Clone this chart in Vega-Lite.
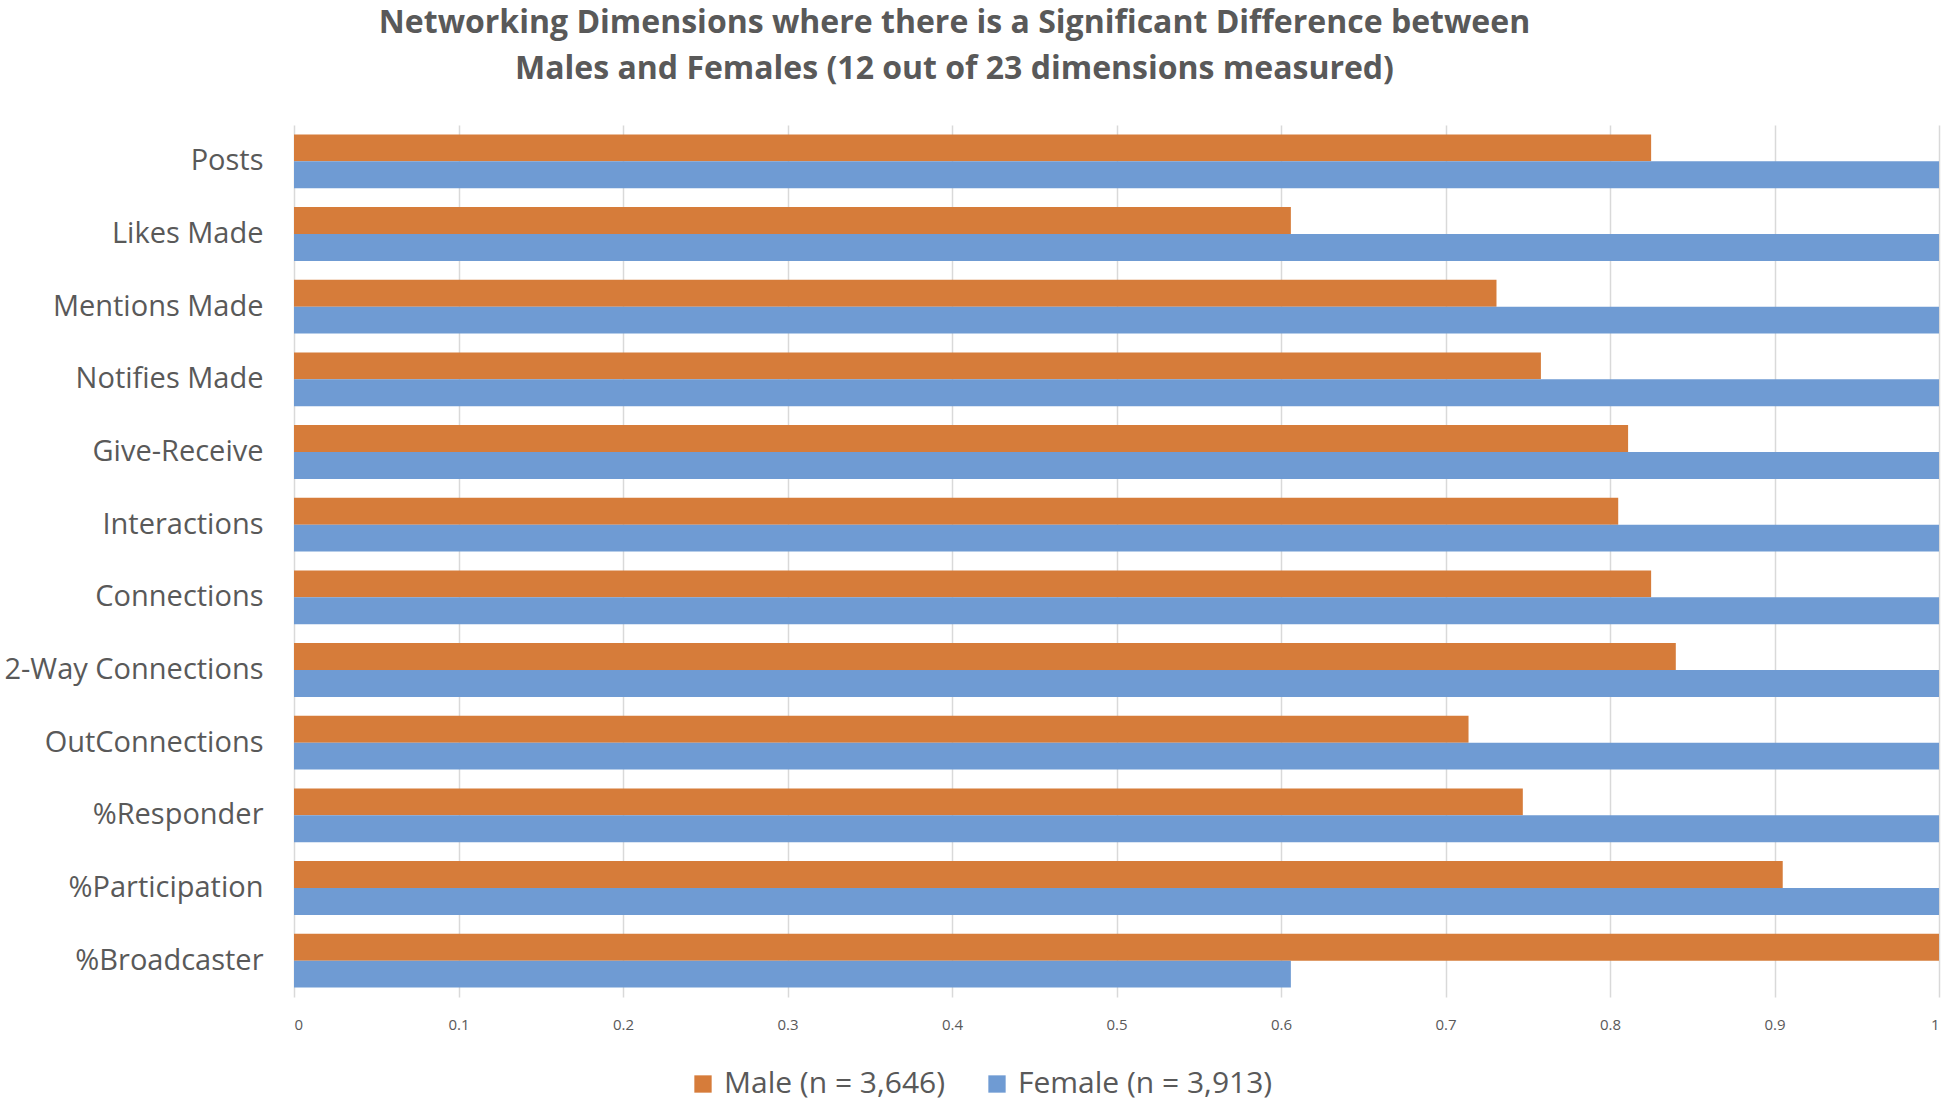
{
  "$schema": "https://vega.github.io/schema/vega-lite/v6.json",
  "autosize": "none",
  "width": 1645,
  "height": 872,
  "padding": {"left": 294, "top": 125, "right": 11, "bottom": 118},
  "background": "white",
  "title": {
    "text": ["Networking Dimensions where there is a Significant Difference between", "Males and Females (12 out of 23 dimensions measured)"],
    "font": "Open Sans",
    "fontSize": 32,
    "fontWeight": "bold",
    "color": "#595959",
    "lineHeight": 46,
    "anchor": "middle",
    "dx": -162,
    "offset": 39
  },
  "data": {
    "values": [
      {"dimension": "Posts", "gender": "Male (n = 3,646)", "value": 0.825},
      {"dimension": "Posts", "gender": "Female (n = 3,913)", "value": 1},
      {"dimension": "Likes Made", "gender": "Male (n = 3,646)", "value": 0.606},
      {"dimension": "Likes Made", "gender": "Female (n = 3,913)", "value": 1},
      {"dimension": "Mentions Made", "gender": "Male (n = 3,646)", "value": 0.731},
      {"dimension": "Mentions Made", "gender": "Female (n = 3,913)", "value": 1},
      {"dimension": "Notifies Made", "gender": "Male (n = 3,646)", "value": 0.758},
      {"dimension": "Notifies Made", "gender": "Female (n = 3,913)", "value": 1},
      {"dimension": "Give-Receive", "gender": "Male (n = 3,646)", "value": 0.811},
      {"dimension": "Give-Receive", "gender": "Female (n = 3,913)", "value": 1},
      {"dimension": "Interactions", "gender": "Male (n = 3,646)", "value": 0.805},
      {"dimension": "Interactions", "gender": "Female (n = 3,913)", "value": 1},
      {"dimension": "Connections", "gender": "Male (n = 3,646)", "value": 0.825},
      {"dimension": "Connections", "gender": "Female (n = 3,913)", "value": 1},
      {"dimension": "2-Way Connections", "gender": "Male (n = 3,646)", "value": 0.84},
      {"dimension": "2-Way Connections", "gender": "Female (n = 3,913)", "value": 1},
      {"dimension": "OutConnections", "gender": "Male (n = 3,646)", "value": 0.714},
      {"dimension": "OutConnections", "gender": "Female (n = 3,913)", "value": 1},
      {"dimension": "%Responder", "gender": "Male (n = 3,646)", "value": 0.747},
      {"dimension": "%Responder", "gender": "Female (n = 3,913)", "value": 1},
      {"dimension": "%Participation", "gender": "Male (n = 3,646)", "value": 0.905},
      {"dimension": "%Participation", "gender": "Female (n = 3,913)", "value": 1},
      {"dimension": "%Broadcaster", "gender": "Male (n = 3,646)", "value": 1},
      {"dimension": "%Broadcaster", "gender": "Female (n = 3,913)", "value": 0.606}
    ]
  },
  "mark": {"type": "bar"},
  "encoding": {
    "y": {
      "field": "dimension",
      "type": "nominal",
      "sort": null,
      "title": null,
      "scale": {"paddingInner": 0.26, "paddingOuter": 0.13},
      "axis": {
        "domain": false,
        "ticks": false,
        "labelFont": "Open Sans",
        "labelFontSize": 29,
        "labelColor": "#595959",
        "labelPadding": 31,
        "labelLimit": 0
      }
    },
    "yOffset": {
      "field": "gender",
      "type": "nominal",
      "sort": ["Male (n = 3,646)", "Female (n = 3,913)"]
    },
    "x": {
      "field": "value",
      "type": "quantitative",
      "title": null,
      "scale": {"domain": [0, 1], "nice": false},
      "axis": {
        "values": [0, 0.1, 0.2, 0.3, 0.4, 0.5, 0.6, 0.7, 0.8, 0.9, 1],
        "format": "~g",
        "domain": false,
        "ticks": false,
        "grid": true,
        "gridColor": "#D9D9D9",
        "gridWidth": 1.5,
        "labelFont": "Open Sans",
        "labelFontSize": 15,
        "labelColor": "#595959",
        "labelPadding": 20
      }
    },
    "color": {
      "field": "gender",
      "type": "nominal",
      "title": null,
      "scale": {
        "domain": ["Male (n = 3,646)", "Female (n = 3,913)"],
        "range": ["#D67C3A", "#6F9BD3"]
      },
      "legend": {
        "orient": "none",
        "direction": "horizontal",
        "legendX": 394,
        "legendY": 944,
        "symbolType": "square",
        "symbolSize": 300,
        "symbolStrokeWidth": 0,
        "labelFont": "Open Sans",
        "labelFontSize": 30,
        "labelColor": "#595959",
        "labelOffset": 6,
        "labelLimit": 0,
        "columnPadding": 36,
        "padding": 0
      }
    }
  },
  "config": {
    "view": {"stroke": null}
  }
}
